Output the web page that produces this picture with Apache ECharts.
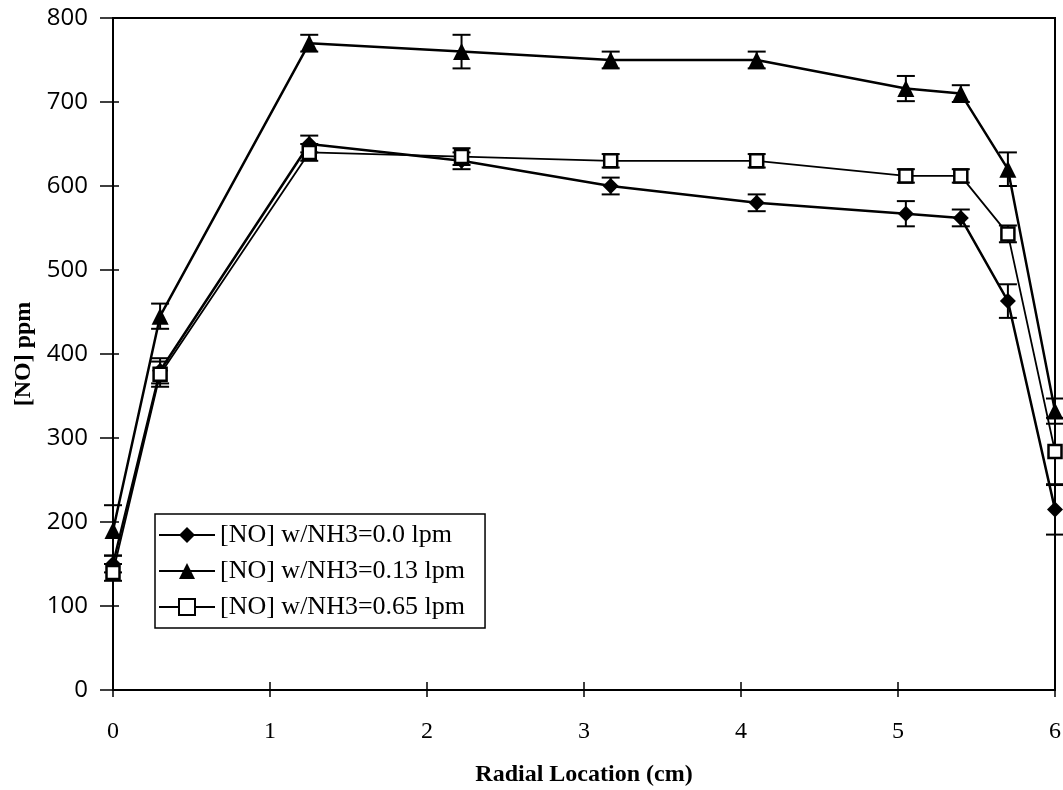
<!DOCTYPE html>
<html><head><meta charset="utf-8">
<script src="https://cdn.jsdelivr.net/npm/echarts@6/dist/echarts.min.js"></script>
<style>html,body{margin:0;padding:0;background:#fff}#c{width:1063px;height:790px}</style>
</head><body><div id="c"></div>
<script>
const xs = [0, 0.3, 1.25, 2.22, 3.17, 4.1, 5.05, 5.4, 5.7, 6.0];
const no00 = [150, 380, 650, 630, 600, 580, 567, 562, 463, 215];
const err00 = [10, 15, 10, 10, 10, 10, 15, 10, 20, 30];
const no013 = [190, 445, 770, 760, 750, 750, 716, 710, 620, 332];
const err013 = [30, 15, 10, 20, 10, 10, 15, 10, 20, 15];
const no065 = [140, 376, 640, 635, 630, 630, 612, 612, 543, 284];
const err065 = [10, 15, 10, 10, 8, 8, 8, 8, 10, 40];
const names = ['[NO] w/NH3=0.0 lpm', '[NO] w/NH3=0.13 lpm', '[NO] w/NH3=0.65 lpm'];

const serif = 'Liberation Serif';
const chart = echarts.init(document.getElementById('c'));
function pts(v){ return xs.map((x,i)=>[x, v[i]]); }
function errData(v,e){ return xs.map((x,i)=>[x, v[i]-e[i], v[i]+e[i]]); }
function errSeries(v,e){
  return {
    type:'custom', silent:true, z:1,
    data: errData(v,e),
    renderItem: function(params, api){
      const lo = api.coord([api.value(0), api.value(1)]);
      const hi = api.coord([api.value(0), api.value(2)]);
      const w = 9;
      const st = {stroke:'#000', lineWidth:2};
      return {type:'group', children:[
        {type:'line', shape:{x1:lo[0],y1:lo[1],x2:hi[0],y2:hi[1]}, style:st},
        {type:'line', shape:{x1:lo[0]-w,y1:lo[1],x2:lo[0]+w,y2:lo[1]}, style:st},
        {type:'line', shape:{x1:hi[0]-w,y1:hi[1],x2:hi[0]+w,y2:hi[1]}, style:st}
      ]};
    }
  };
}
const tickStyle = {color:'#000', width:1.5};
chart.setOption({
  animation:false,
  backgroundColor:'#fff',
  grid:{left:113, right:8, top:18, bottom:100, show:true, borderColor:'#000', borderWidth:2,
        containLabel:false, outerBoundsMode:'none'},
  legend:{
    data:names, orient:'vertical', left:155, top:514,
    itemWidth:56, itemHeight:20, itemGap:10,
    padding:[8,20,8,3],
    borderColor:'#000', borderWidth:1.5, backgroundColor:'#fff',
    textStyle:{fontFamily:serif, fontSize:26, lineHeight:26, color:'#000'}
  },
  xAxis:[{
    type:'value', min:0, max:6, interval:1,
    name:'Radial Location (cm)', nameLocation:'middle', nameGap:73,
    nameTextStyle:{fontFamily:serif, fontSize:24, fontWeight:'bold', color:'#000'},
    axisLine:{lineStyle:{color:'#000', width:2}},
    axisTick:{show:true, length:7, lineStyle:tickStyle},
    axisLabel:{margin:30, color:'#000', fontFamily:serif, fontSize:24},
    splitLine:{show:false}
  },{
    type:'value', min:0, max:6, interval:1, position:'bottom',
    axisLine:{show:false}, axisLabel:{show:false}, splitLine:{show:false},
    axisTick:{show:true, inside:true, length:8, lineStyle:tickStyle}
  }],
  yAxis:[{
    type:'value', min:0, max:800, interval:100,
    name:'[NO] ppm', nameLocation:'middle', nameGap:74, nameRotate:90,
    nameTextStyle:{fontFamily:serif, fontSize:24, fontWeight:'bold', color:'#000'},
    axisLine:{lineStyle:{color:'#000', width:2}},
    axisTick:{show:true, length:13, lineStyle:tickStyle},
    axisLabel:{margin:25, color:'#000', fontFamily:'Open Sans', fontSize:24},
    splitLine:{show:false}
  },{
    type:'value', min:0, max:800, interval:100, position:'left',
    axisLine:{show:false}, axisLabel:{show:false}, splitLine:{show:false},
    axisTick:{show:true, inside:true, length:6, lineStyle:tickStyle}
  }],
  series:[
    errSeries(no00, err00), errSeries(no013, err013), errSeries(no065, err065),
    {name:names[0], type:'line', data:pts(no00), symbol:'diamond', symbolSize:16, z:3,
     lineStyle:{color:'#000', width:2.5}, itemStyle:{color:'#000', borderColor:'#000', borderWidth:0}},
    {name:names[1], type:'line', data:pts(no013), symbol:'triangle', symbolSize:17, z:3,
     lineStyle:{color:'#000', width:2.5}, itemStyle:{color:'#000', borderColor:'#000', borderWidth:0}},
    {name:names[2], type:'line', data:pts(no065), symbol:'rect', symbolSize:13, z:4,
     lineStyle:{color:'#000', width:1.8}, itemStyle:{color:'#fff', borderColor:'#000', borderWidth:2.5}}
  ]
});
</script></body></html>
